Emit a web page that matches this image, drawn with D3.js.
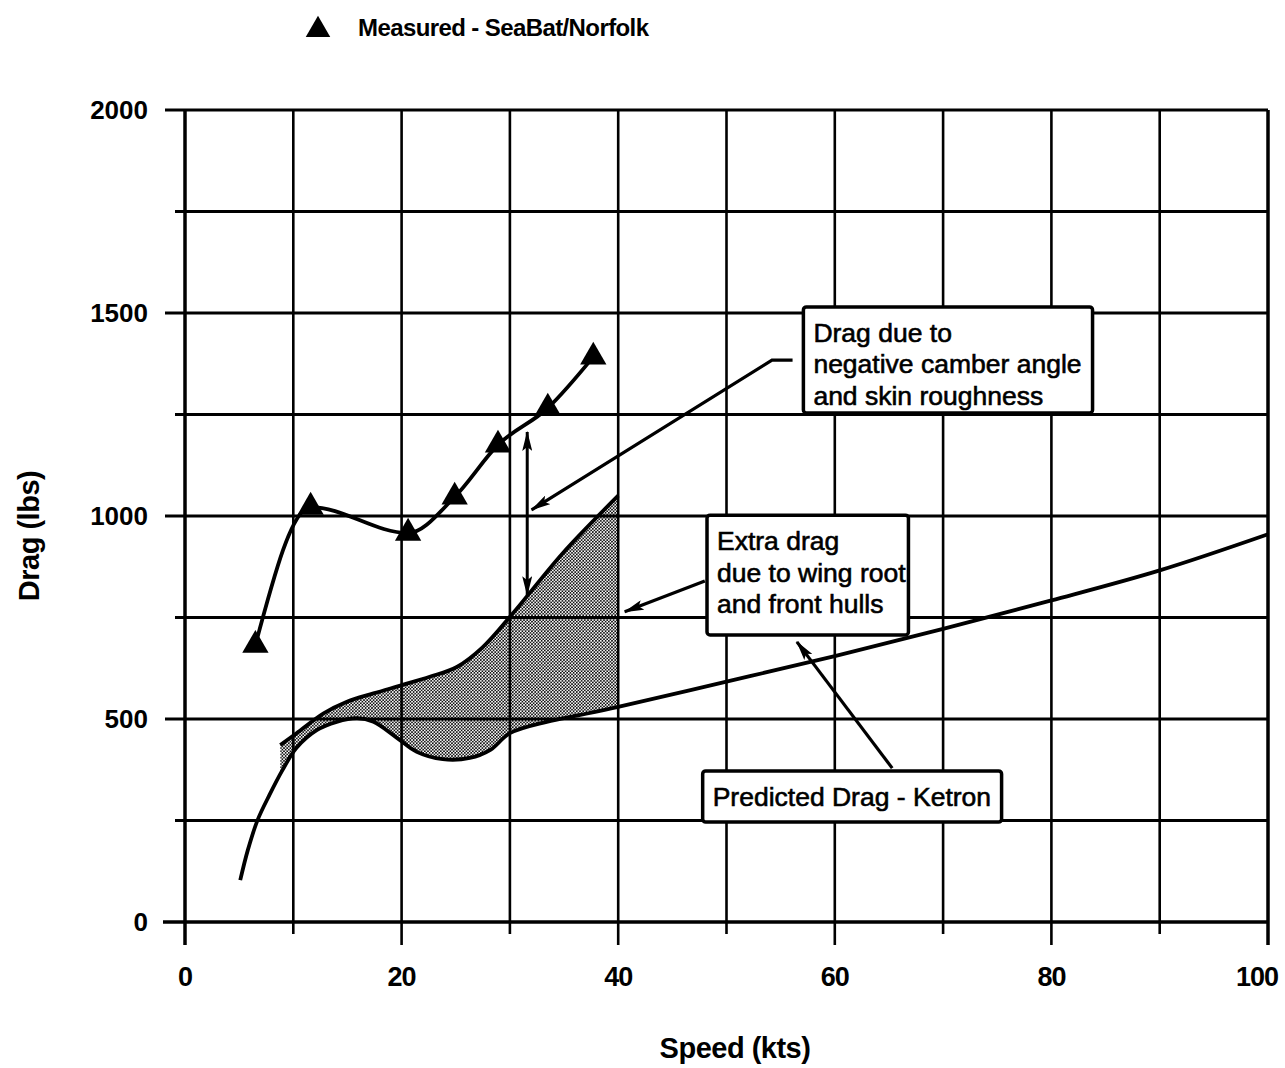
<!DOCTYPE html>
<html>
<head>
<meta charset="utf-8">
<script src="https://cdn.jsdelivr.net/npm/d3@7"></script>
<style>
  html, body { margin: 0; padding: 0; background: #fff; }
  svg { display: block; }
  text { font-family: "Liberation Sans", Arial, Helvetica, sans-serif; fill: #000; }
</style>
</head>
<body>
<svg id="chart" width="1285" height="1068"></svg>
<script>
// ---------- data ----------
const speedTicks = [0, 20, 40, 60, 80, 100];
const speedGrid = [0, 10, 20, 30, 40, 50, 60, 70, 80, 90, 100];
const dragTicks = [0, 500, 1000, 1500, 2000];
const dragGrid = [0, 250, 500, 750, 1000, 1250, 1500, 1750, 2000];

const measuredSpeed = [6.5, 11.6, 20.6, 24.9, 28.9, 33.5, 37.7];
const measuredDrag  = [682, 1022, 958, 1047, 1175, 1266, 1392];

const ketronSpeed = [5.1, 5.8, 6.7, 7.8, 9.0, 10.3, 12.2, 14.0, 15.9, 17.4, 19.6, 21.4, 23.8, 26.3, 28.2, 30.0, 33.4, 36.5, 40.0, 50, 60, 70, 80, 90, 100];
const ketronDrag  = [103, 177, 251, 313, 374, 429, 473, 493, 502, 493, 453, 419, 401, 404, 424, 465, 493, 510, 530, 592, 655, 722, 792, 866, 955];

const extraSpeed = [8.8, 10.3, 12.8, 14.9, 17.4, 20.1, 22.6, 25.1, 27.5, 30.3, 34.9, 40.0];
const extraDrag  = [436, 465, 514, 542, 563, 584, 604, 628, 677, 761, 909, 1050];

// vertical double arrow (speed, drag from -> to)
const gapArrow = { speed: 31.6, from: 805, to: 1207 };

const legendLabel = "Measured - SeaBat/Norfolk";
const xTitle = "Speed (kts)";
const yTitle = "Drag (lbs)";

const notes = [
  { lines: ["Drag due to", "negative camber angle", "and skin roughness"],
    box: [57.1, 1515, 83.8, 1254],
    leader: [[56.1, 1384], [54.2, 1384], [32.0, 1015]] },
  { lines: ["Extra drag", "due to wing root", "and front hulls"],
    box: [48.2, 1002, 66.8, 707],
    leader: [[48.0, 840], [40.6, 764]] },
  { lines: ["Predicted Drag - Ketron"],
    box: [47.8, 372, 75.4, 246],
    leader: [[65.3, 379], [56.5, 690]] }
];

// ---------- layout ----------
const svg = d3.select("#chart");
const x = d3.scaleLinear().domain([0, 100]).range([185, 1268]);
const y = d3.scaleLinear().domain([0, 2000]).range([922, 110]);

const zip = (a, b) => a.map((v, i) => [v, b[i]]);
const measured = zip(measuredSpeed, measuredDrag);
const ketron = zip(ketronSpeed, ketronDrag);
const extra = zip(extraSpeed, extraDrag);

const defs = svg.append("defs");
const pat = defs.append("pattern").attr("id", "dots")
  .attr("patternUnits", "userSpaceOnUse").attr("width", 3.2).attr("height", 3.2);
pat.append("circle").attr("cx", 0.8).attr("cy", 0.8).attr("r", 0.9).attr("fill", "#000");
pat.append("circle").attr("cx", 2.4).attr("cy", 2.4).attr("r", 0.9).attr("fill", "#000");

defs.append("marker").attr("id", "head")
  .attr("viewBox", "0 0 20 10").attr("refX", 19).attr("refY", 5)
  .attr("markerWidth", 20).attr("markerHeight", 10)
  .attr("markerUnits", "userSpaceOnUse").attr("orient", "auto-start-reverse")
  .append("path").attr("d", "M0,0 L20,5 L0,10 L4,5 Z").attr("fill", "#000");

const smooth = d3.curveCatmullRom.alpha(0.5);

// clip: below the "extra drag" upper curve
defs.append("clipPath").attr("id", "underExtra")
  .append("path")
  .attr("d", d3.area().curve(smooth)
    .x(d => x(d[0])).y0(y(0)).y1(d => y(d[1]))(extra));

// shading: above Ketron, clipped below upper curve
svg.append("path")
  .attr("clip-path", "url(#underExtra)")
  .attr("d", d3.area().curve(smooth)
    .x(d => x(d[0])).y0(d => y(d[1])).y1(y(2000))(ketron))
  .attr("fill", "url(#dots)");

// ---------- grid ----------
const g = svg.append("g").attr("stroke", "#000").attr("fill", "none");
speedGrid.forEach(s => {
  g.append("line").attr("x1", x(s)).attr("x2", x(s))
    .attr("y1", y(2000)).attr("y2", y(0) + (speedTicks.includes(s) ? 23 : 12))
    .attr("stroke-width", s === 0 ? 3.5 : (s === 100 ? 3.5 : 2.6));
});
dragGrid.forEach(d => {
  g.append("line").attr("y1", y(d)).attr("y2", y(d))
    .attr("x1", d === 0 ? 163 : x(0) - (dragTicks.includes(d) ? 20 : 10)).attr("x2", x(100))
    .attr("stroke-width", d === 0 ? 3.5 : 2.8);
});

// ---------- tick labels ----------
svg.append("g").selectAll("text").data(speedTicks).join("text")
  .attr("x", d => d === 100 ? 1278 : x(d))
  .attr("y", y(0) + 64)
  .attr("text-anchor", d => d === 100 ? "end" : "middle")
  .attr("font-size", 27).attr("font-weight", "bold").attr("letter-spacing", -1)
  .text(d => d);
svg.append("g").selectAll("text").data(dragTicks).join("text")
  .attr("x", 148).attr("y", d => y(d) + 9)
  .attr("text-anchor", "end")
  .attr("font-size", 26).attr("font-weight", "bold")
  .text(d => d);

// axis titles
svg.append("text").attr("x", 735).attr("y", 1058)
  .attr("text-anchor", "middle").attr("font-size", 29).attr("font-weight", "bold")
  .attr("letter-spacing", -0.5).text(xTitle);
svg.append("text").attr("transform", "translate(39,536) rotate(-90)")
  .attr("text-anchor", "middle").attr("font-size", 29).attr("font-weight", "bold")
  .attr("letter-spacing", -0.5).text(yTitle);

// ---------- curves ----------
const line = d3.line().curve(smooth).x(d => x(d[0])).y(d => y(d[1]));
const mline = d3.line().curve(d3.curveMonotoneX).x(d => x(d[0])).y(d => y(d[1]));
svg.append("path").attr("d", line(ketron))
  .attr("fill", "none").attr("stroke", "#000").attr("stroke-width", 3.8);
svg.append("path").attr("d", line(extra))
  .attr("fill", "none").attr("stroke", "#000").attr("stroke-width", 3.8);
svg.append("path").attr("d", mline(measured))
  .attr("fill", "none").attr("stroke", "#000").attr("stroke-width", 3.8);

const tri = d3.symbol().type(d3.symbolTriangle).size(300);
svg.append("g").selectAll("path").data(measured).join("path")
  .attr("transform", d => `translate(${x(d[0])},${y(d[1])})`)
  .attr("d", tri).attr("fill", "#000");

// double arrow
svg.append("line")
  .attr("x1", x(gapArrow.speed)).attr("x2", x(gapArrow.speed))
  .attr("y1", y(gapArrow.from)).attr("y2", y(gapArrow.to))
  .attr("stroke", "#000").attr("stroke-width", 3)
  .attr("marker-start", "url(#head)").attr("marker-end", "url(#head)");

// ---------- annotations ----------
notes.forEach(n => {
  svg.append("path")
    .attr("d", d3.line().x(d => x(d[0])).y(d => y(d[1]))(n.leader))
    .attr("fill", "none").attr("stroke", "#000").attr("stroke-width", 3.2)
    .attr("marker-end", "url(#head)");
  const [s0, d0, s1, d1] = n.box;
  svg.append("rect")
    .attr("x", x(s0)).attr("y", y(d0))
    .attr("width", x(s1) - x(s0)).attr("height", y(d1) - y(d0))
    .attr("rx", 3)
    .attr("fill", "#fff").attr("stroke", "#000").attr("stroke-width", 3.5);
  n.lines.forEach((t, i) => {
    svg.append("text")
      .attr("x", x(s0) + 10).attr("y", y(d0) + 35 + i * 31.5)
      .attr("font-size", 26.5)
      .attr("stroke", "#000").attr("stroke-width", 0.6)
      .text(t);
  });
});

// ---------- legend ----------
svg.append("path").attr("transform", "translate(318,30)")
  .attr("d", d3.symbol().type(d3.symbolTriangle).size(260)).attr("fill", "#000");
svg.append("text").attr("x", 358).attr("y", 36)
  .attr("font-size", 24).attr("font-weight", "bold").attr("letter-spacing", -0.6)
  .text(legendLabel);
</script>
</body>
</html>
